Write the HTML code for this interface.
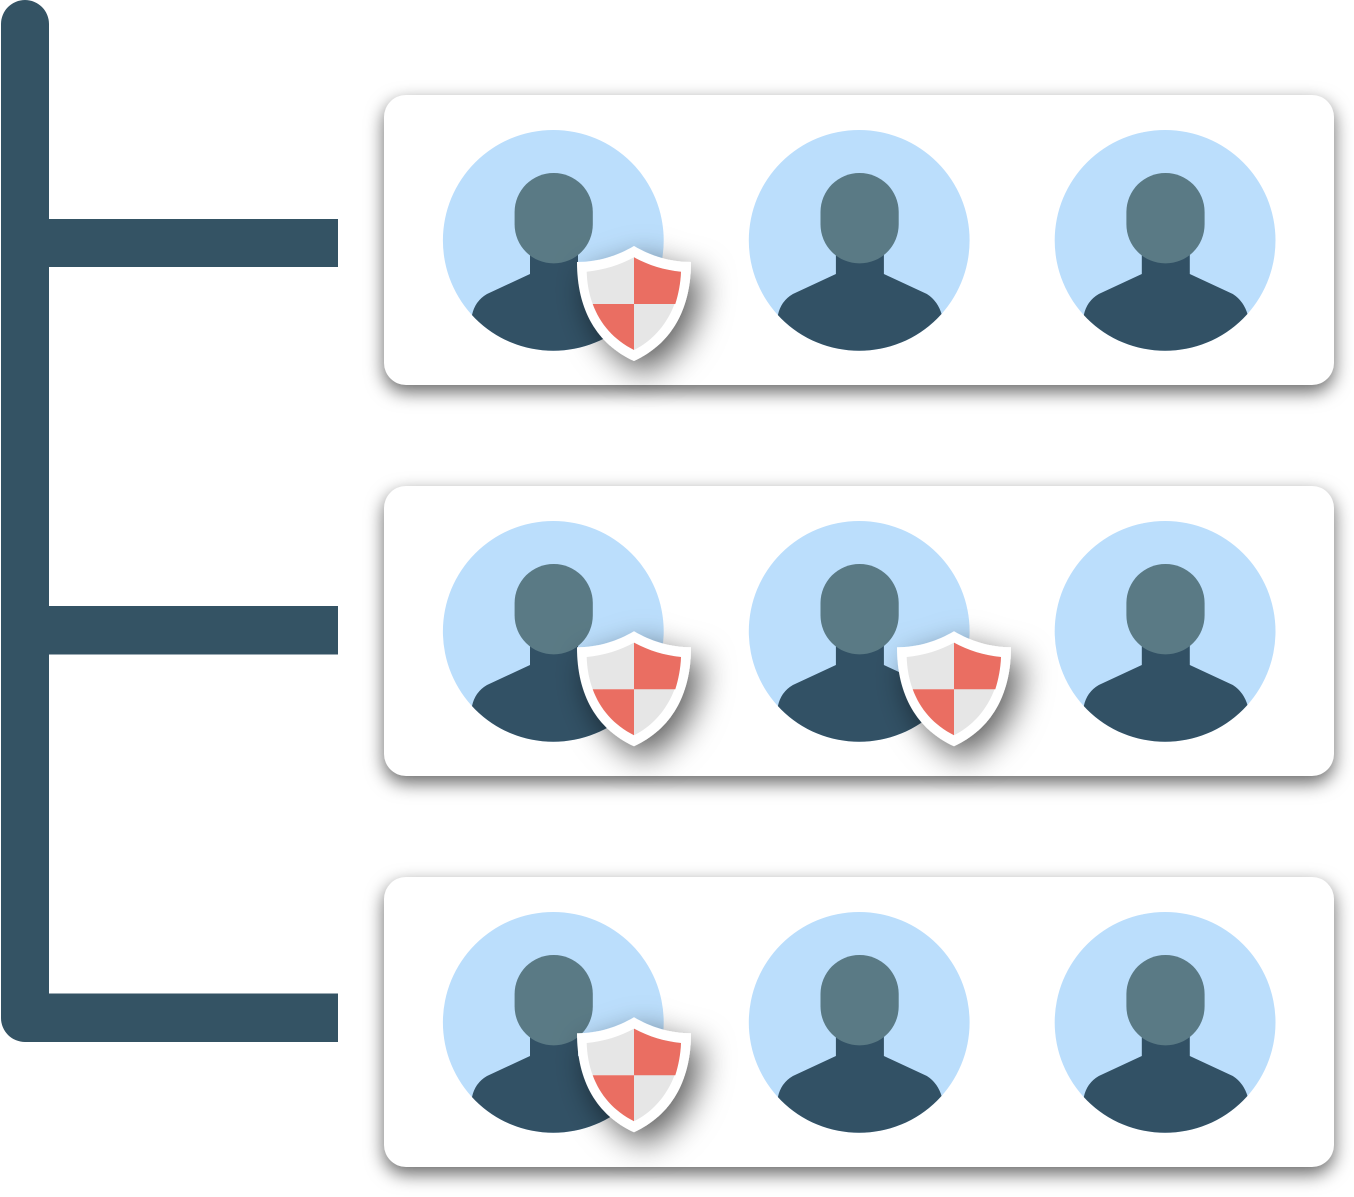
<!DOCTYPE html>
<html>
<head>
<meta charset="utf-8">
<style>
html,body{margin:0;padding:0;background:#fff;}
body{width:1354px;height:1197px;overflow:hidden;position:relative;}
.card{position:absolute;left:384px;width:950px;height:290px;background:#fff;border-radius:22px;box-shadow:0 7px 18px rgba(0,0,0,.6);}
svg{position:absolute;left:0;top:0;}
</style>
</head>
<body>
<svg width="1354" height="1197" viewBox="0 0 1354 1197" style="z-index:0">
<path d="M1 24A24 24 0 0 1 49 24V219H338V267H49V606H338V654.5H49V993.5H338V1042H25A24 24 0 0 1 1 1018Z" fill="#345364"/>
</svg>
<div class="card" style="top:95px"></div>
<div class="card" style="top:486px"></div>
<div class="card" style="top:877px"></div>
<svg width="1354" height="1197" viewBox="0 0 1354 1197" style="z-index:1">
<defs>
<clipPath id="c"><circle cx="553.3" cy="240.4" r="110.4"/></clipPath>
<g id="person">
<circle cx="553.3" cy="240.4" r="110.4" fill="#bbdefc"/>
<g clip-path="url(#c)">
<path d="M530 250H578V274L621 294Q632 301 636 315V360H472V315Q475 301 487 294L530 274Z" fill="#325165"/>
</g>
<rect x="514.6" y="173" width="78.2" height="90.4" rx="39" ry="39" fill="#5a7a85"/>
</g>
<filter id="s" x="-80%" y="-80%" width="280%" height="280%">
<feDropShadow dx="10" dy="12" stdDeviation="16" flood-color="#000" flood-opacity=".62"/>
</filter>
<g id="shield">
<g filter="url(#s)">
<path d="M634 246C617 256 598 262 577 262C577 310 597 344 634 361C671 344 691 310 691 262C670 262 651 256 634 246Z" fill="#fff"/>
</g>
<path d="M634 257.3C620 265 604 270 586.7 271.7C587 283 589 294 592.7 304H634V350C666 334 680 301 681 271.7C664 270 648 265 634 257.3Z" fill="#e6e6e6"/>
<path d="M634 257.3C648 265 664 270 681 271.7C680.6 283 678.5 294 675.3 304H634Z" fill="#ea6e62"/>
<path d="M592.7 304H634V350C614 340 600 324 592.7 304Z" fill="#ea6e62"/>
</g>
</defs>
<use href="#person"/>
<use href="#person" x="305.9"/>
<use href="#person" x="611.8"/>
<use href="#person" y="391"/>
<use href="#person" x="305.9" y="391"/>
<use href="#person" x="611.8" y="391"/>
<use href="#person" y="782"/>
<use href="#person" x="305.9" y="782"/>
<use href="#person" x="611.8" y="782"/>
<use href="#shield"/>
<use href="#shield" y="385.3"/>
<use href="#shield" x="320" y="385.3"/>
<use href="#shield" y="771.3"/>
</svg>
</body>
</html>
